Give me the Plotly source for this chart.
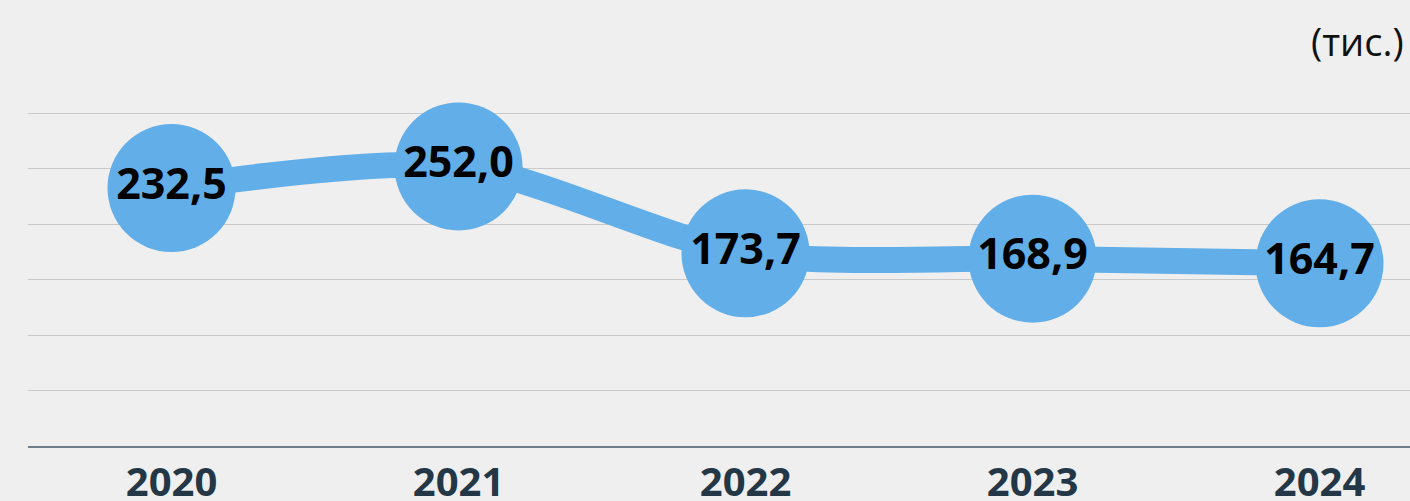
import plotly.graph_objects as go

years = ["2020", "2021", "2022", "2023", "2024"]
values = [232.5, 252.0, 173.7, 168.9, 164.7]
labels = ["232,5", "252,0", "173,7", "168,9", "164,7"]
unit_label = "(тис.)"

xpos = list(range(len(years)))
blue = "#61aee8"

fig = go.Figure()
fig.add_trace(go.Scatter(
    x=xpos, y=values,
    mode="lines+markers+text",
    line=dict(color=blue, width=26, shape="spline", smoothing=0.8),
    marker=dict(color=blue, size=128, line=dict(width=0)),
    text=labels,
    textposition="middle center",
    textfont=dict(family="Open Sans", size=43, color="#000000", weight="bold"),
    hoverinfo="skip",
    cliponaxis=False,
))

fig.update_layout(
    width=1410, height=501,
    paper_bgcolor="#efefef", plot_bgcolor="#efefef",
    margin=dict(l=28, r=0, t=91, b=55, autoexpand=False),
    showlegend=False,
    xaxis=dict(
        range=[-0.5, -0.5 + 1382 / 287],
        tickvals=xpos, ticktext=years,
        showgrid=False, zeroline=False,
        showline=True, linecolor="#6f7e8c", linewidth=1.5,
        ticks="", automargin=False,
        tickfont=dict(family="Open Sans", size=40, color="#243746", weight="bold"),
        fixedrange=True,
    ),
    yaxis=dict(
        range=[0, 320],
        tickvals=[50, 100, 150, 200, 250, 300],
        showticklabels=False, automargin=False,
        showgrid=True, gridcolor="#c9c9c9", gridwidth=1.2,
        zeroline=False, showline=False, ticks="",
        fixedrange=True,
    ),
    annotations=[dict(
        text=unit_label, xref="paper", yref="paper",
        x=1.0, y=1.0, xanchor="right", yanchor="middle",
        yshift=50, xshift=-4,
        showarrow=False,
        font=dict(family="Open Sans", size=38, color="#111111"),
    )],
)

fig.write_html("out.html", config={"displayModeBar": False},
               post_script="document.body.style.margin='0';document.body.style.overflow='hidden';")
